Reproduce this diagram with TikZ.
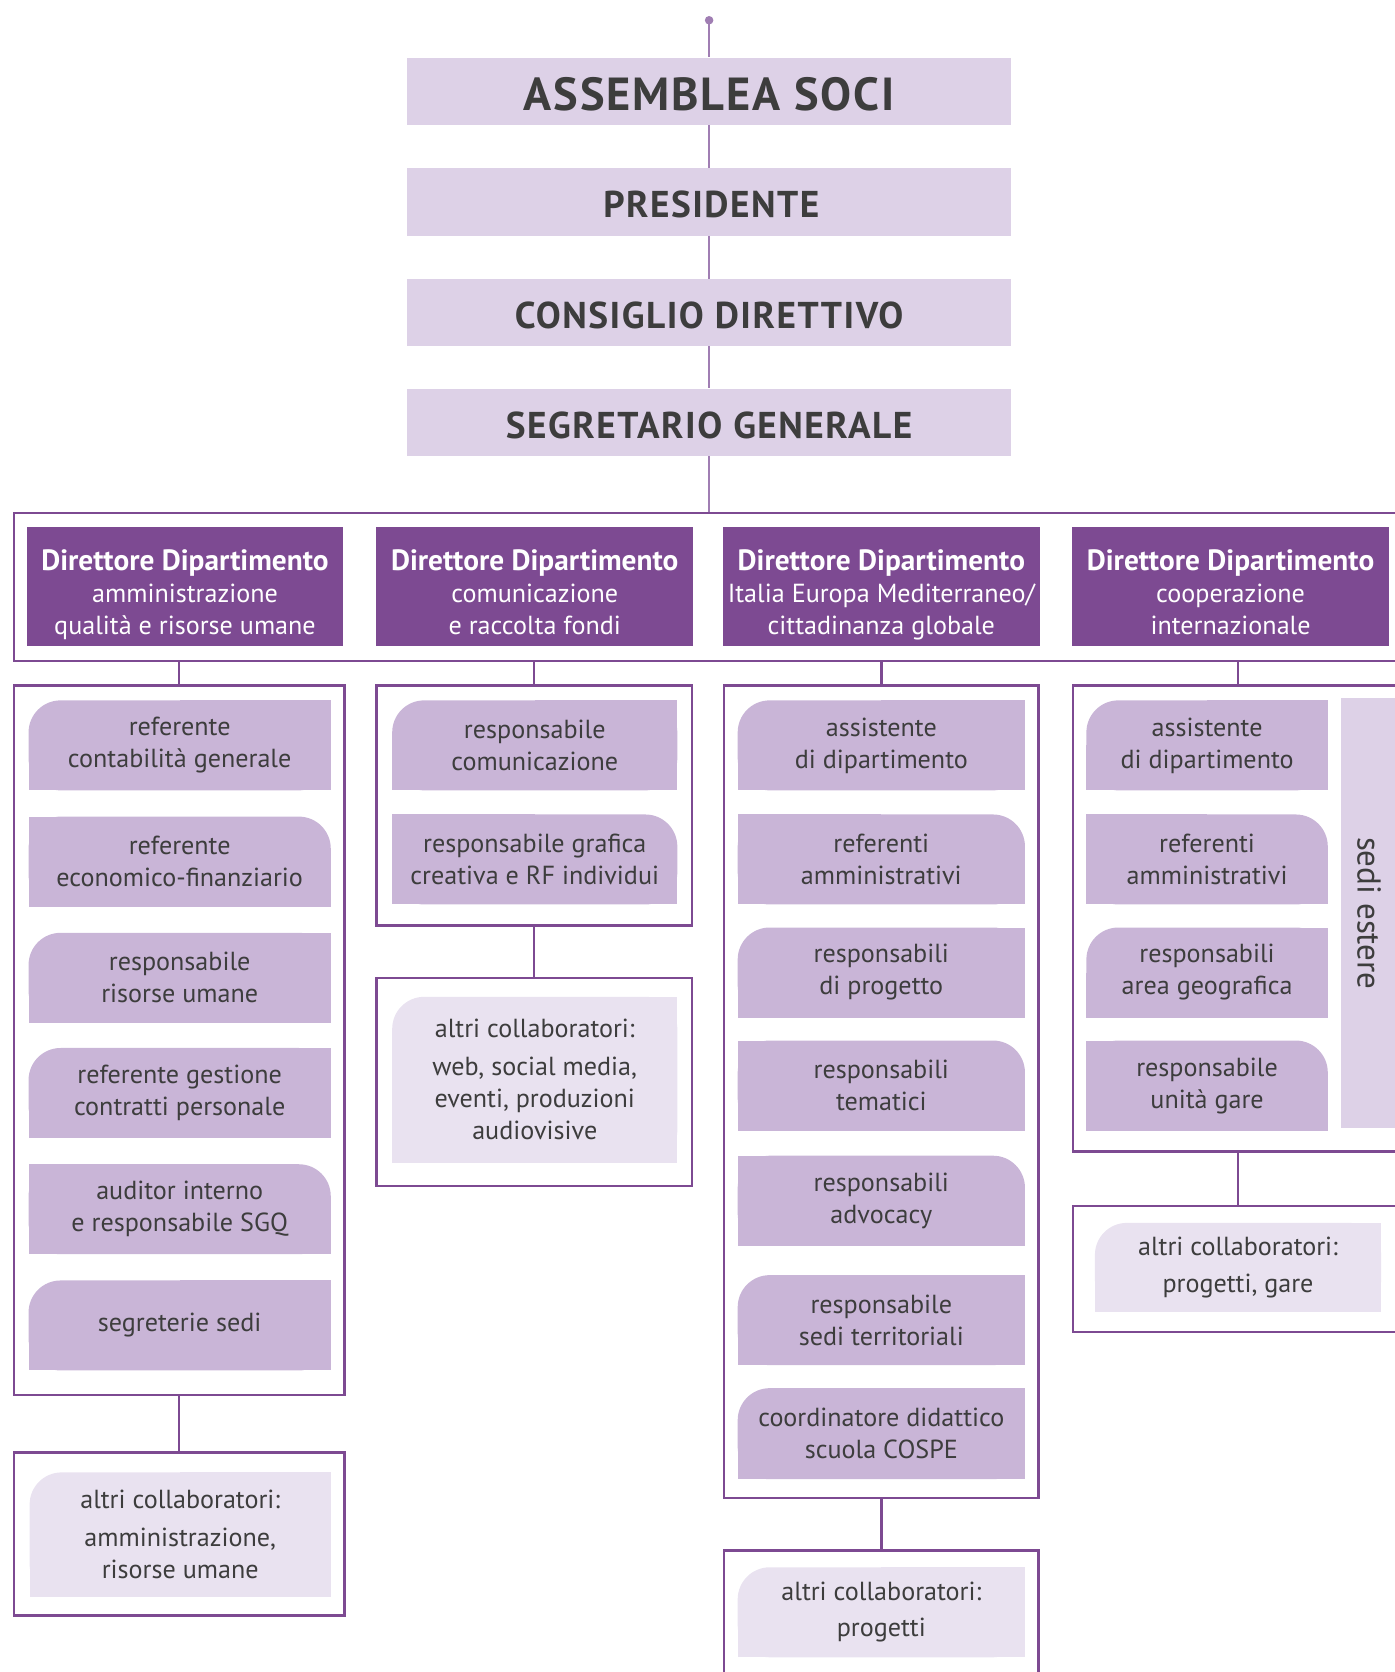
\documentclass[tikz,border=0pt]{standalone}
\usepackage{fontspec}
\setmainfont{PT Sans}
\pgfdeclarelayer{bg}
\pgfsetlayers{bg,main}
\definecolor{topfill}{HTML}{DDD1E7}
\definecolor{dirfill}{HTML}{7D4A92}
\definecolor{framecol}{HTML}{7D4A92}
\definecolor{itemfill}{HTML}{C9B5D7}
\definecolor{altfill}{HTML}{E9E2F0}
\definecolor{txt}{HTML}{3D3D3D}
\definecolor{topline}{HTML}{A07EB3}
\newcommand\itemfnt{\fontsize{24.5}{30}\selectfont}
\newcommand\topfnt{\fontsize{35}{40}\selectfont\bfseries\addfontfeature{LetterSpace=4}}
\newcommand\bigtopfnt{\fontsize{43.5}{46}\selectfont\bfseries\addfontfeature{LetterSpace=4}}
\newcommand\dirtitle{\fontsize{27.5}{30}\selectfont\bfseries}
\newcommand\dirfnt{\fontsize{24.5}{30}\selectfont}
\newcommand\bgTL[2]{%
  \fill[#2, rounded corners=30pt] (#1.north west) rectangle (#1.south east);
  \fill[#2] (#1.west) rectangle (#1.south east);
  \fill[#2] (#1.north) rectangle (#1.east);}
\newcommand\bgTR[2]{%
  \fill[#2, rounded corners=30pt] (#1.north west) rectangle (#1.south east);
  \fill[#2] (#1.west) rectangle (#1.south east);
  \fill[#2] (#1.north west) rectangle (#1.center);}
\begin{document}
\begin{tikzpicture}[x=1pt,y=-1pt,
  topbox/.style={fill=topfill, minimum width=566, minimum height=63, inner sep=0pt},
  toptext/.style={text=txt, inner sep=0pt, font=\topfnt},
  dirbox/.style={fill=dirfill, minimum width=297, minimum height=112, inner sep=0pt},
  dirtext/.style={text=white, inner sep=0pt, align=center, font=\dirfnt, anchor=north},
  frm/.style={draw=framecol, line width=2.3pt, inner sep=0pt},
  itm/.style={text=txt, align=center, inner sep=0pt, font=\itemfnt},
  conn/.style={draw=framecol, line width=2.3pt},
  topconn/.style={draw=topline, line width=1.6pt},
  vtext/.style={text=txt, rotate=-90, font=\fontsize{31}{34}\selectfont, inner sep=0pt}]
\useasboundingbox (0,0) rectangle (1308,1568);
\clip (0,0) rectangle (1308,1568);

% ---------- top chain ----------
\node[circle, fill=topline, minimum size=8pt, inner sep=0pt] (dot) at (665,19) {};
\node[topbox] (asm) at (665,85.5) {};
\node[topbox] (pres) at (665,189.5) {};
\node[topbox] (cons) at (665,293) {};
\node[topbox] (seg) at (665,396) {};
\node[toptext, font=\bigtopfnt] (asmt) at (665,88) {ASSEMBLEA SOCI};
\node[toptext] (prest) at (667,192) {PRESIDENTE};
\node[toptext] (const) at (665,296) {CONSIGLIO DIRETTIVO};
\node[toptext] (segt) at (665,399) {SEGRETARIO GENERALE};

% ---------- directors ----------
\node[frm, minimum width=1317, minimum height=139] (dframe) at (671.5,550.5) {};
\node[dirbox] (d1) at (173.5,550) {};
\node[dirbox] (d2) at (501.5,550) {};
\node[dirbox] (d3) at (826.5,550) {};
\node[dirbox] (d4) at (1154,550) {};
\node[dirtext] (d1t) at (173.5,515) {{\dirtitle Direttore Dipartimento}\\amministrazione\\qualità e risorse umane};
\node[dirtext] (d2t) at (501.5,515) {{\dirtitle Direttore Dipartimento}\\comunicazione\\e raccolta fondi};
\node[dirtext] (d3t) at (826.5,515) {{\dirtitle Direttore Dipartimento}\\Italia Europa Mediterraneo/\\cittadinanza globale};
\node[dirtext] (d4t) at (1154,515) {{\dirtitle Direttore Dipartimento}\\cooperazione\\internazionale};

% ---------- column 1 ----------
\node[frm, minimum width=310, minimum height=665] (f1) at (168,975.5) {};
\node[itm, minimum width=283, minimum height=84] (a1) at (168.5,699) {referente\\contabilità generale};
\node[itm, minimum width=283, minimum height=84] (a2) at (168.5,808) {referente\\economico-finanziario};
\node[itm, minimum width=283, minimum height=84] (a3) at (168.5,917) {responsabile\\risorse umane};
\node[itm, minimum width=283, minimum height=84] (a4) at (168.5,1025) {referente gestione\\contratti personale};
\node[itm, minimum width=283, minimum height=84] (a5) at (168.5,1134) {auditor interno\\e responsabile SGQ};
\node[itm, minimum width=283, minimum height=84] (a6) at (168.5,1243) {segreterie sedi};
\node[frm, minimum width=310, minimum height=153] (g1) at (168,1438.5) {};
\node[itm, minimum width=282, minimum height=116] (o1) at (169,1439) {altri collaboratori:\\[5pt]amministrazione,\\risorse umane};

% ---------- column 2 ----------
\node[frm, minimum width=296, minimum height=225] (f2) at (501,755.5) {};
\node[itm, minimum width=267, minimum height=84] (b1) at (501.5,699) {responsabile\\comunicazione};
\node[itm, minimum width=267, minimum height=84] (b2) at (501.5,806) {responsabile grafica\\creativa e RF individui};
\node[frm, minimum width=296, minimum height=195] (g2) at (501,1014.5) {};
\node[itm, minimum width=267, minimum height=155] (o2) at (501.5,1012.5) {altri collaboratori:\\[6pt]web, social media,\\eventi, produzioni\\audiovisive};

% ---------- column 3 ----------
\node[frm, minimum width=295, minimum height=762] (f3) at (826.5,1024) {};
\node[itm, minimum width=269, minimum height=84] (c1) at (826.5,699) {assistente\\di dipartimento};
\node[itm, minimum width=269, minimum height=84] (c2) at (826.5,806) {referenti\\amministrativi};
\node[itm, minimum width=269, minimum height=84] (c3) at (826.5,912) {responsabili\\di progetto};
\node[itm, minimum width=269, minimum height=84] (c4) at (826.5,1018) {responsabili\\tematici};
\node[itm, minimum width=269, minimum height=84] (c5) at (826.5,1126) {responsabili\\advocacy};
\node[itm, minimum width=269, minimum height=84] (c6) at (826.5,1238) {responsabile\\sedi territoriali};
\node[itm, minimum width=269, minimum height=85] (c7) at (826.5,1344.5) {coordinatore didattico\\scuola COSPE};
\node[frm, minimum width=295, minimum height=146] (g3) at (826.5,1527) {};
\node[itm, minimum width=269, minimum height=84] (o3) at (826.5,1512) {altri collaboratori:\\[4pt]progetti};

% ---------- column 4 ----------
\node[frm, minimum width=324, minimum height=437] (f4) at (1168,861.5) {};
\node[itm, minimum width=226, minimum height=84] (e1) at (1132,699) {assistente\\di dipartimento};
\node[itm, minimum width=226, minimum height=84] (e2) at (1132,806) {referenti\\amministrativi};
\node[itm, minimum width=226, minimum height=84] (e3) at (1132,912) {responsabili\\area geografica};
\node[itm, minimum width=226, minimum height=84] (e4) at (1132,1018) {responsabile\\unità gare};
\node[fill=topfill, minimum width=50, minimum height=403, inner sep=0pt] (sedi) at (1283,856.5) {};
\node[vtext] (seditxt) at (1284,856.5) {sedi estere};
\node[frm, minimum width=324, minimum height=118] (g4) at (1168,1190) {};
\node[itm, minimum width=268, minimum height=83] (o4) at (1161,1188.5) {altri collaboratori:\\[5pt]progetti, gare};
\coordinate (ax4) at (1161,0);

% ---------- connectors ----------
\draw[topconn] (dot.center) -- (asm.north);
\draw[topconn] (asm.south) -- (pres.north);
\draw[topconn] (pres.south) -- (cons.north);
\draw[topconn] (cons.south) -- (seg.north);
\draw[topconn] (seg.south) -- (seg.south |- dframe.north);

\draw[conn] (f1.north) -- (f1.north |- dframe.south);
\draw[conn] (f2.north) -- (f2.north |- dframe.south);
\draw[conn] (f3.north) -- (f3.north |- dframe.south);
\draw[conn] (f4.north -| ax4) -- (dframe.south -| ax4);

\draw[conn] (f1.south) -- (g1.north);
\draw[conn] (f2.south) -- (g2.north);
\draw[conn] (f3.south) -- (g3.north);
\draw[conn] (f4.south -| ax4) -- (g4.north -| ax4);

% ---------- fills (background) ----------
\begin{pgfonlayer}{bg}
\bgTL{a1}{itemfill}\bgTR{a2}{itemfill}\bgTL{a3}{itemfill}
\bgTL{a4}{itemfill}\bgTR{a5}{itemfill}\bgTL{a6}{itemfill}
\bgTL{o1}{altfill}
\bgTL{b1}{itemfill}\bgTR{b2}{itemfill}
\bgTL{o2}{altfill}
\bgTL{c1}{itemfill}\bgTR{c2}{itemfill}\bgTL{c3}{itemfill}\bgTR{c4}{itemfill}
\bgTR{c5}{itemfill}\bgTL{c6}{itemfill}\bgTL{c7}{itemfill}
\bgTL{o3}{altfill}
\bgTL{e1}{itemfill}\bgTR{e2}{itemfill}\bgTL{e3}{itemfill}\bgTR{e4}{itemfill}
\bgTL{o4}{altfill}
\end{pgfonlayer}
\end{tikzpicture}
\end{document}
